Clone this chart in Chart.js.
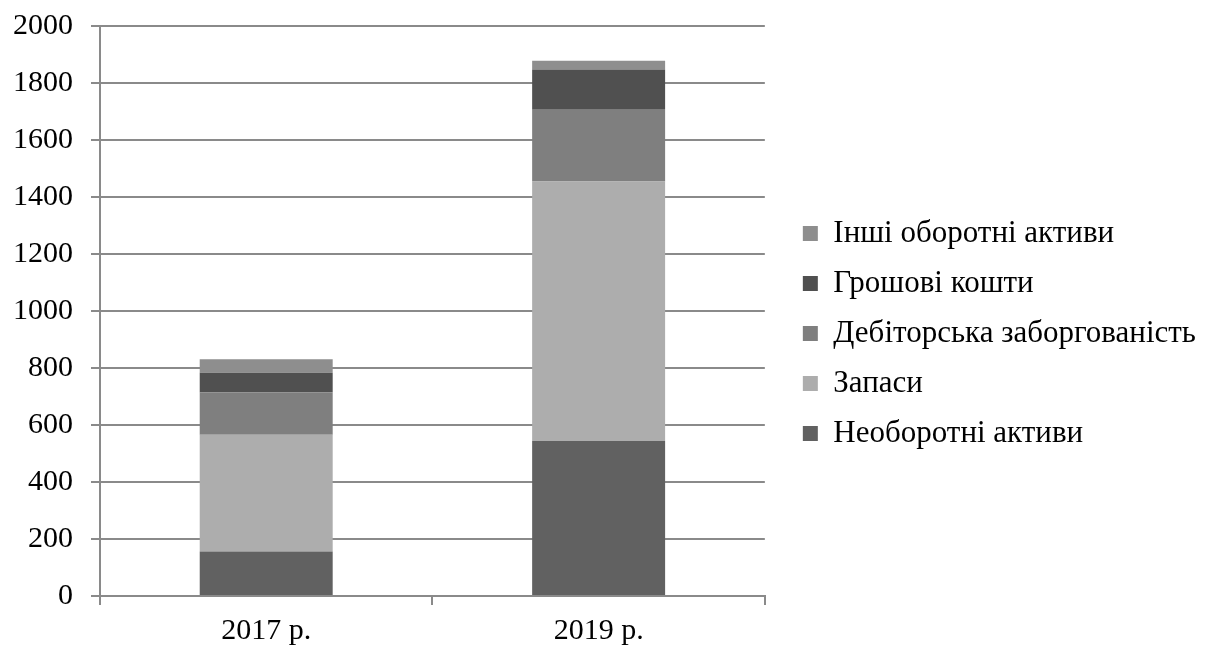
<!DOCTYPE html>
<html>
<head>
<meta charset="utf-8">
<script src="https://cdn.jsdelivr.net/npm/chart.js@4.4.0/dist/chart.umd.min.js"></script>
<style>
    html, body { margin: 0; padding: 0; background: #fff; }
    #wrap { width: 1208px; height: 648px; }
</style>
</head>
<body>
<div id="wrap"><canvas id="assetsChart"></canvas></div>
<script>
// Chart data
const years = ['2017 р.', '2019 р.'];
const neoborotni = [156, 544];
const zapasy = [410, 910];
const debitorska = [149, 252];
const groshovi = [68, 141];
const inshi = [48, 31];
const yTicks = [0, 200, 400, 600, 800, 1000, 1200, 1400, 1600, 1800, 2000];

const gridColor = '#8a8a8a';
const serif = '"Liberation Serif", "DejaVu Serif", serif';

document.addEventListener('DOMContentLoaded', function() {
    initChart();
});

function initChart() {
    const ctx = document.getElementById('assetsChart').getContext('2d');
    new Chart(ctx, {
        type: 'bar',
        data: {
            labels: years,
            datasets: [
                { label: 'Необоротні активи', data: neoborotni, backgroundColor: '#616161' },
                { label: 'Запаси', data: zapasy, backgroundColor: '#adadad' },
                { label: 'Дебіторська заборгованість', data: debitorska, backgroundColor: '#7f7f7f' },
                { label: 'Грошові кошти', data: groshovi, backgroundColor: '#505050' },
                { label: 'Інші оборотні активи', data: inshi, backgroundColor: '#8e8e8e' }
            ]
        },
        options: {
            responsive: true,
            maintainAspectRatio: false,
            animation: false,
            layout: {
                padding: { top: -2, right: 2, bottom: 3, left: 10 }
            },
            datasets: {
                bar: { categoryPercentage: 0.8, barPercentage: 0.5, borderWidth: 0 }
            },
            plugins: {
                legend: {
                    position: 'right',
                    reverse: true,
                    maxWidth: 600,
                    title: {
                        display: true,
                        text: ' ',
                        font: { size: 20 },
                        padding: 0
                    },
                    labels: {
                        color: '#000',
                        font: { family: serif, size: 31 },
                        boxWidth: 15,
                        boxHeight: 15,
                        padding: 19
                    }
                },
                tooltip: { enabled: false }
            },
            scales: {
                x: {
                    stacked: true,
                    border: { color: gridColor, width: 2 },
                    grid: {
                        drawOnChartArea: false,
                        drawTicks: true,
                        tickLength: 9,
                        color: gridColor,
                        lineWidth: 2
                    },
                    ticks: {
                        color: '#000',
                        font: { family: serif, size: 30 },
                        padding: 8
                    },
                    afterFit: function(axis) {
                        axis.height = 49;
                    }
                },
                y: {
                    stacked: true,
                    min: 0,
                    max: 2000,
                    afterBuildTicks: function(axis) {
                        axis.ticks = yTicks.map(v => ({ value: v }));
                    },
                    border: { color: gridColor, width: 2 },
                    grid: {
                        color: gridColor,
                        lineWidth: 2,
                        tickLength: 9
                    },
                    ticks: {
                        color: '#000',
                        font: { family: serif, size: 30 },
                        padding: 18,
                        callback: function(value) {
                            return String(value);
                        }
                    },
                    afterFit: function(axis) {
                        axis.width = 90;
                        axis.paddingTop = 26;
                    }
                },
                // empty spacer between plot and legend
                gap: {
                    type: 'linear',
                    position: 'right',
                    min: 0,
                    max: 1,
                    grid: { display: false },
                    border: { display: false },
                    ticks: { display: false },
                    afterFit: function(axis) {
                        axis.width = 19;
                        axis.paddingTop = 0;
                        axis.paddingBottom = 0;
                    }
                }
            }
        }
    });
}
</script>
</body>
</html>
